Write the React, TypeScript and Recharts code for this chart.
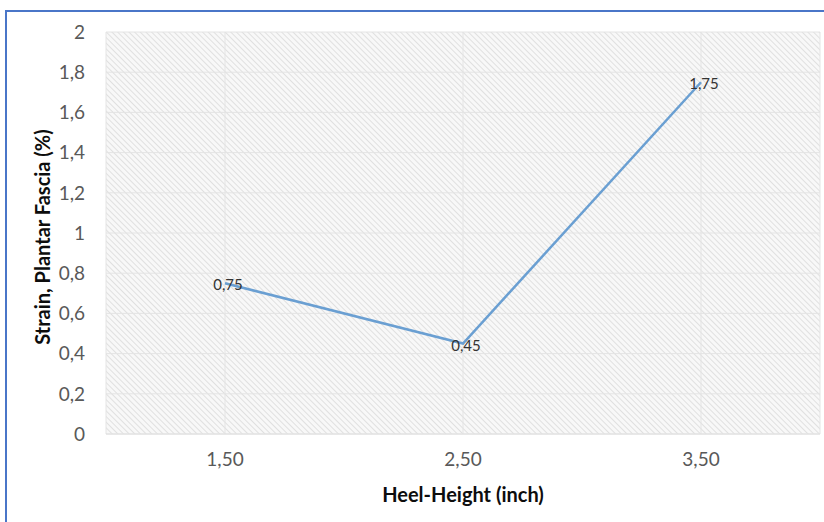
import { LineChart, Line, XAxis, YAxis, CartesianGrid, LabelList } from "recharts";

// heel height categories (as printed on the axis) and measured plantar fascia strain
const heelHeights = ["1,50", "2,50", "3,50"];
const strainValues = [0.75, 0.45, 1.75];
const strainTicks = [0, 0.2, 0.4, 0.6, 0.8, 1, 1.2, 1.4, 1.6, 1.8, 2];

const data = heelHeights.map((h, i) => ({ height: h, strain: strainValues[i] }));

const FONT = "Lato, 'Open Sans', sans-serif";
const comma = (v: number) => String(v).replace(".", ",");

const YTitle = ({ viewBox }: any) => {
  const cy = viewBox.y + viewBox.height / 2 + 4;
  return (
    <text
      x={42}
      y={cy}
      transform={`rotate(-90, 42, ${cy})`}
      textAnchor="middle"
      dominantBaseline="central"
      fontFamily={FONT}
      fontWeight={700}
      fontSize={20}
      fill="#0d0d0d"
    >
      Strain, Plantar Fascia (%)
    </text>
  );
};

const XTitle = ({ viewBox }: any) => (
  <text
    x={viewBox.x + viewBox.width / 2}
    y={494}
    textAnchor="middle"
    dominantBaseline="central"
    fontFamily={FONT}
    fontWeight={700}
    fontSize={20}
    fill="#0d0d0d"
  >
    Heel-Height (inch)
  </text>
);

const ValueLabel = ({ x, y, value }: any) => (
  <text
    x={x + 3}
    y={y + 1}
    textAnchor="middle"
    dominantBaseline="central"
    fontFamily={FONT}
    fontSize={15}
    fill="#333333"
  >
    {comma(value)}
  </text>
);

export default function App() {
  return (
    <div style={{ position: "fixed", left: 0, top: 0, width: 824, height: 522, background: "#fff" }}>
      <div
        style={{
          position: "absolute",
          left: 5,
          top: 10,
          width: 819,
          height: 512,
          borderTop: "2px solid #4a76c8",
          borderLeft: "2px solid #4a76c8",
          boxSizing: "border-box",
        }}
      />
      <LineChart
        width={824}
        height={522}
        data={data}
        margin={{ top: 32, right: 4, bottom: 0, left: 0 }}
        style={{ position: "absolute", left: 0, top: 0 }}
      >
        <defs>
          <pattern
            id="hatch"
            width={4}
            height={4}
            patternUnits="userSpaceOnUse"
            patternTransform="rotate(-45)"
          >
            <rect width={4} height={4} fill="#f8f8f8" />
            <line x1={0} y1={0} x2={0} y2={4} stroke="#d4d4d4" strokeWidth={1.3} />
          </pattern>
        </defs>
        <CartesianGrid fill="url(#hatch)" fillOpacity={1} stroke="#e4e4e4" strokeWidth={1} />
        <XAxis
          dataKey="height"
          height={88}
          padding={{ left: 119, right: 119 }}
          axisLine={{ stroke: "#e0e0e0" }}
          tickLine={false}
          tickSize={0}
          tickMargin={19}
          tick={{ fontFamily: FONT, fontSize: 19, fill: "#595959" }}
          label={<XTitle />}
        />
        <YAxis
          width={106}
          domain={[0, 2]}
          ticks={strainTicks}
          interval={0}
          axisLine={false}
          tickLine={false}
          tickSize={0}
          tickMargin={21}
          tickFormatter={comma}
          tick={{ fontFamily: FONT, fontSize: 19, fill: "#595959" }}
          label={<YTitle />}
        />
        <Line
          type="linear"
          dataKey="strain"
          stroke="#6a9fd2"
          strokeWidth={2.5}
          dot={false}
          isAnimationActive={false}
        >
          <LabelList dataKey="strain" content={<ValueLabel />} />
        </Line>
      </LineChart>
    </div>
  );
}
